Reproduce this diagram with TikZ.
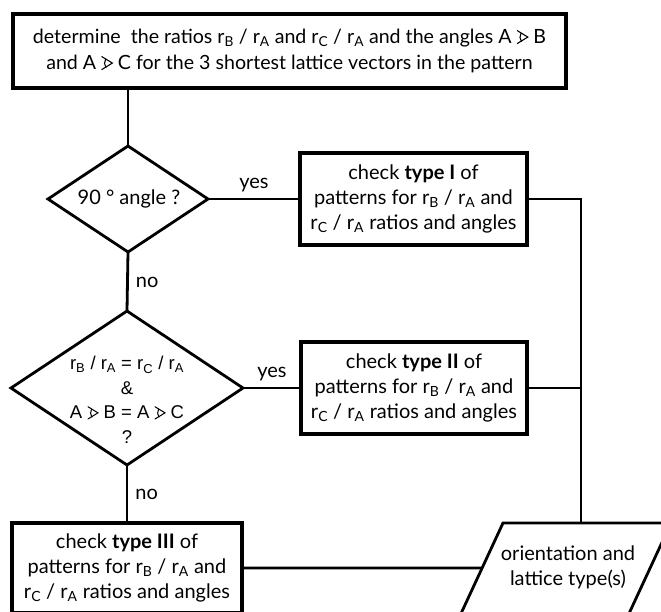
\documentclass[tikz,border=0pt]{standalone}
\usepackage{fontspec}
\setmainfont{Lato}
\newfontfamily\arialfont{Liberation Sans}
\usetikzlibrary{shapes.geometric,calc}
\newcommand\rs[1]{r\textsubscript{#1}}
\newcommand\angsym{\tikz[baseline=0pt,line width=0.055em,line cap=round]{%
  \draw (0.04em,0.66em) -- (0.58em,0.33em) -- (0.04em,0em);
  \draw ([shift={(150:0.40em)}]0.58em,0.33em) arc[start angle=150,end angle=215,radius=0.40em];}}
\tikzset{
  box/.style={draw,line width=3.2pt,rectangle,inner sep=0pt,outer sep=0pt,align=center,
    font=\fontsize{20}{25}\selectfont},
  dec/.style={draw,line width=2.8pt,diamond,inner sep=0pt,outer sep=0pt},
  conn/.style={line width=2.8pt},
  lbl/.style={font=\fontsize{20}{25}\selectfont,inner sep=0pt}
}
\begin{document}
\begin{tikzpicture}[x=1pt,y=-1pt]
\useasboundingbox (0,0) rectangle (661,611);
\clip (0,0) rectangle (661,611);
% top box
\node[box,minimum width=553pt,minimum height=74pt,
  font=\fontsize{19.6}{26}\selectfont] (top) at (289.5,51)
  {determine\ \ the ratios \rs{B} / \rs{A} and \rs{C} / \rs{A} and the angles A \angsym{} B\\
   and A \angsym{} C for the 3 shortest lattice vectors in the pattern};
% decisions
\node[dec,minimum width=160pt,minimum height=106pt] (d1) at (128,199) {};
\node[lbl] (d1t) at (129,199) {90 ° angle ?};
\node[dec,minimum width=232pt,minimum height=154pt] (d2) at (127,388) {};
\node[lbl,align=center,font=\arialfont\fontsize{18.5}{24.5}\selectfont] (d2t) at (127,400)
  {\rs{B} / \rs{A} = \rs{C} / \rs{A}\\ \&\\ A \angsym{} B = A \angsym{} C\\ ?};
% check boxes
\node[box,minimum width=227pt,minimum height=92pt] (t1) at (413.5,199)
  {check \textbf{type I} of\\ patterns for \rs{B} / \rs{A} and\\ \rs{C} / \rs{A} ratios and angles};
\node[box,minimum width=226pt,minimum height=92pt] (t2) at (414,388)
  {check \textbf{type II} of\\ patterns for \rs{B} / \rs{A} and\\ \rs{C} / \rs{A} ratios and angles};
\node[box,minimum width=230pt,minimum height=90pt] (t3) at (127,568)
  {check \textbf{type III} of\\ patterns for \rs{B} / \rs{A} and\\ \rs{C} / \rs{A} ratios and angles};
% output parallelogram
\coordinate (ptl) at (503,523);
\coordinate (ptr) at (671,523);
\coordinate (pbr) at (626,620);
\coordinate (pbl) at (458,620);
\draw[line width=2.8pt,line join=miter] (ptl) -- (ptr) -- (pbr) -- (pbl) -- cycle;
\node[lbl,align=center] (out) at (568,567) {orientation and\\ lattice type(s)};
\coordinate (pin) at ($(ptl)!0.4639!(pbl)$);
\coordinate (ptop) at (581,523);
% connectors
\draw[conn] (top.south -| d1.north) -- (d1.north);
\draw[conn] (d1.east) -- (t1.west) node[lbl,midway,above=6pt] (y1) {yes};
\draw[conn] (d1.south) -- (d2.north) node[lbl,pos=0.52,right=7pt] (n1) {no};
\draw[conn] (d2.east) -- (t2.west) node[lbl,midway,above=6pt] (y2) {yes};
\draw[conn] (d2.south) -- (t3.north) node[lbl,pos=0.5,right=7pt] (n2) {no};
\draw[conn] (t1.east) -| (ptop);
\draw[conn] (t2.east) -- (t2.east -| ptop);
\draw[conn] (t3.east) -- (pin);
\end{tikzpicture}
\end{document}
